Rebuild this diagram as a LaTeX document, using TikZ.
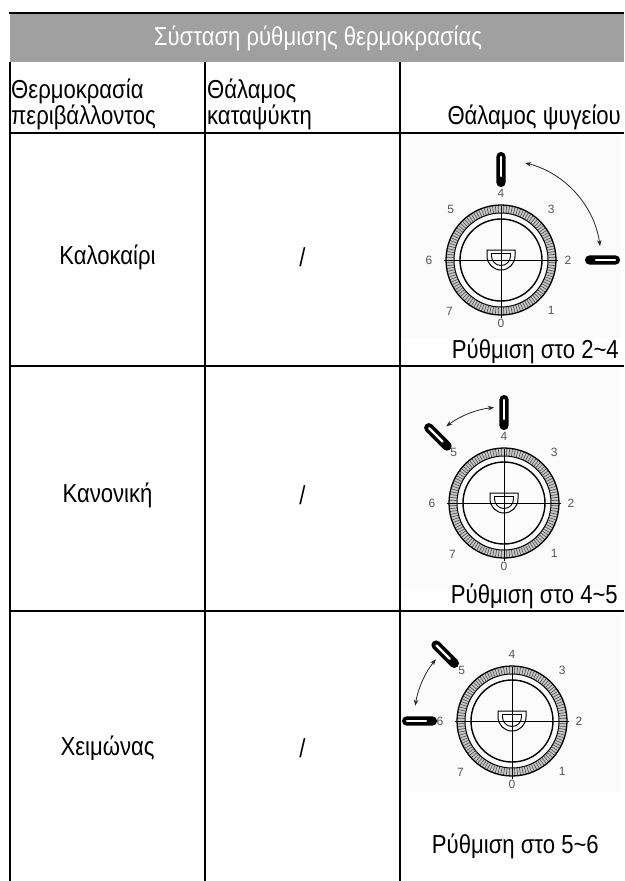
\documentclass[tikz,border=0pt]{standalone}
\usepackage{fontspec}
\setmainfont{Liberation Sans}
\newfontfamily\narrowfont[FakeStretch=0.85]{Liberation Sans}
\usetikzlibrary{arrows.meta}
\definecolor{headgray}{RGB}{160,160,160}
\definecolor{labgray}{RGB}{85,85,85}
\definecolor{imgbg}{RGB}{251,251,251}
\newcommand\dialknob[2]{%
  \begin{scope}[rotate=-#1]
    \fill[black, rounded corners=4.4pt] (#2,-4.6) rectangle ++(35,9.2);
    \draw[white, line width=2.2pt, line cap=round] ({#2+11},0) -- ({#2+30},0);
  \end{scope}}
\newcommand\fridgedial[3]{%
  \begin{scope}[shift={(#2,#3)},yscale=-1]
    \fill[black!22, even odd rule] (0,0) circle (55) (0,0) circle (47);
    \foreach \a in {0,3,...,357} \draw[ringtick] (\a:47.5) -- (\a:54.5);
    \draw[line width=1.3pt] (0,0) circle (55);
    \draw[line width=1pt] (0,0) circle (47);
    \draw[line width=1.4pt] (0,0) circle (41);
    \draw[line width=0.9pt] (-57,0) -- (57,0);
    \draw[line width=0.9pt] (0,54) -- (0,-58);
    \draw[line width=1pt] (-14,10) -- (14,10) -- (14,4) arc (0:-180:14) -- cycle;
    \draw[line width=0.9pt] (-9.5,6.5) -- (9.5,6.5) -- (9.5,4) arc (0:-180:9.5) -- cycle;
    \node[lab] (#1l0) at (270:63) {0};
    \node[lab] (#1l1) at (315:71) {1};
    \node[lab] (#1l2) at (0:67) {2};
    \node[lab] (#1l3) at (45:71) {3};
    \node[lab] (#1l4) at (90:67) {4};
    \node[lab] (#1l5) at (135:71) {5};
    \node[lab] (#1l6) at (180:72) {6};
    \node[lab] (#1l7) at (225:73) {7};
  \end{scope}}
\begin{document}
\begin{tikzpicture}[x=1pt,y=-1pt,
  txt/.style={font=\narrowfont\fontsize{26}{30}\selectfont, inner sep=0pt},
  grid/.style={line width=2pt},
  lab/.style={font=\fontsize{12}{14}\selectfont, text=labgray, inner sep=0pt},
  ringtick/.style={line width=0.6pt, black!70},
  turn/.style={line width=0.8pt, black!85, {Stealth[length=6pt,width=4.5pt]}-{Stealth[length=6pt,width=4.5pt]}}]
\useasboundingbox (0,0) rectangle (624,881);
% light picture backgrounds
\fill[imgbg] (401,134) rectangle (621,338);
\fill[imgbg] (401,367) rectangle (619,590);
\fill[imgbg] (401,612) rectangle (621,792);
% header band
\fill[headgray] (10,13) rectangle (624,62);
\draw[grid] (9,13) -- (624,13);
\foreach \x in {10,205,400} \draw[grid] (\x,62) -- (\x,881);
\foreach \y in {133,366,611} \draw[grid] (9,\y) -- (624,\y);
\node[txt, text=white] (title) at (318,38) {Σύσταση ρύθμισης θερμοκρασίας};
% column headers
\node[txt, anchor=base west] (h1a) at (11,98) {Θερμοκρασία};
\node[txt, anchor=base west] (h1b) at (11,124) {περιβάλλοντος};
\node[txt, anchor=base west] (h2a) at (207,98) {Θάλαμος};
\node[txt, anchor=base west] (h2b) at (207,124) {καταψύκτη};
\node[txt, anchor=base east] (h3) at (621,124) {Θάλαμος ψυγείου};
% row texts
\node[txt] (r1a) at (107.5,257) {Καλοκαίρι};
\node[txt] (r1b) at (302.5,257) {/};
\node[txt] (r2a) at (107.5,495) {Κανονική};
\node[txt] (r2b) at (302.5,495) {/};
\node[txt] (r3a) at (107.5,748) {Χειμώνας};
\node[txt] (r3b) at (302.5,748) {/};
\node[txt, anchor=base east] (s1) at (619,358) {Ρύθμιση στο 2\char"007E 4};
\node[txt, anchor=base east] (s2) at (618,603) {Ρύθμιση στο 4\char"007E 5};
\node[txt, anchor=base east] (s3) at (599,853) {Ρύθμιση στο 5\char"007E 6};
% dial 1
\fridgedial{da}{501}{260}
\begin{scope}[shift={(501,260)},yscale=-1]
  \dialknob{90}{73}
  \dialknob{0}{84}
  \draw[turn] (76:100) arc (76:8:100);
\end{scope}
% dial 2
\fridgedial{db}{504}{503}
\begin{scope}[shift={(504,503)},yscale=-1]
  \dialknob{90}{73}
  \dialknob{135}{76}
  \draw[turn] (96:96) arc (96:127:96);
\end{scope}
% dial 3
\fridgedial{dc}{512}{721}
\begin{scope}[shift={(512,721)},yscale=-1]
  \dialknob{135}{77}
  \dialknob{180}{75}
  \draw[turn] (141:98) arc (141:171:98);
\end{scope}
\end{tikzpicture}
\end{document}
